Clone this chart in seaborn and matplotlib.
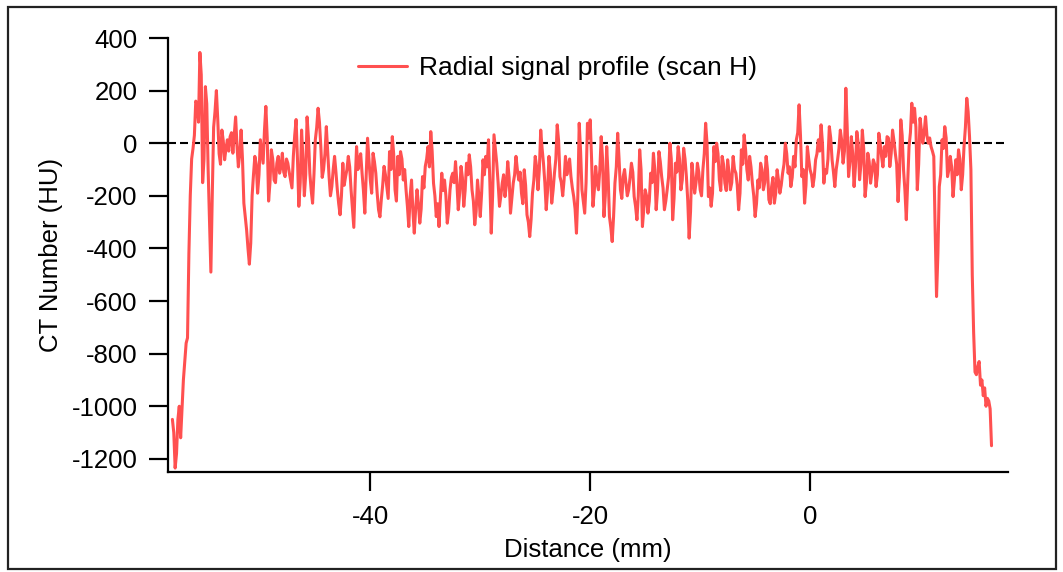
import numpy as np
import pandas as pd
import matplotlib
matplotlib.use("Agg")
import matplotlib.pyplot as plt
from matplotlib.patches import Rectangle
import seaborn as sns

# sampling of the radial profile (mm)
start_mm = -58.0
step_mm = 0.25

# CT number (HU) at the main samples
ct_values = [
    -1050, -1235, -1050, -1120, -900, -760, -420, -60, 30, 150,
    345, -150, 215, -100, -490, 60, 200, -40, 50, -63,
    13, 25, -38, 100, -90, 50, -228, -330, -460, -200,
    -50, -190, 13, -76, 140, -220, -25, -140, -76, -114,
    -38, -127, -76, -140, -50, 90, -240, 50, -200, 100,
    -114, -228, 13, 133, -13, -100, 63, -127, -165, -50,
    -177, -272, -76, -127, -50, -177, -320, -13, -63, -114,
    -266, 19, -140, -38, -114, -253, -215, -88, -165, -32,
    25, -177, -50, -32, -140, -177, -317, -140, -342, -177,
    -304, -127, -88, -13, 44, -152, -279, -317, -114, -140,
    -304, -177, -114, -70, -253, -88, -240, -76, -44, -177,
    -310, -140, -279, -63, -50, 13, -342, 32, -76, -240,
    -152, -203, -70, -266, -152, -50, -140, -190, -101, -272,
    -355, -190, -50, -177, 50, -76, -253, -50, -228, -114,
    70, -127, -200, -50, -88, -127, -203, -342, 76, -177,
    -266, 76, 89, -240, -88, -177, 25, -279, -13, -279,
    -374, -152, 38, -177, -127, -152, -177, -76, -203, -291,
    -25, -317, -177, -266, -114, -38, -253, -32, -127, -253,
    -177, 0, -291, -76, -13, -177, -19, -127, -361, -76,
    -190, -76, -177, -101, 76, -203, -240, -13, 0, -140,
    -50, -152, -63, -177, -50, -114, -253, -25, 32, -101,
    -50, -152, -279, -140, -76, -177, -50, -215, -165, -228,
    -101, -190, -114, 0, -114, -165, -50, 13, 146, -127,
    -228, -13, -101, -165, -63, 13, 70, -152, -114, 63,
    -63, -165, -63, 50, -76, 209, -127, 25, -165, 44,
    -139, 50, -203, -38, -152, -63, -165, 38, -50, -13,
    25, -89, 50, -38, -222, 89, -101, -291, -13, 152,
    133, -177, 95, 0, 101, 0, -13, -50, -583, -165,
    13, 63, -127, -50, -203, -63, -25, -177, -13, 171,
    25, -500, -870, -850, -920, -960, -1000, -980, -1150,
]

# CT number (HU) halfway between the main samples
ct_mid = [
    -1100, -1180, -1000, -1010, -830, -740, -200, -20, 160, 80,
    260, -60, 150, -300, -200, 120, 90, -80, 10, -20,
    -30, 40, 30, -10, -40, -60, -280, -400, -380, -120,
    -80, -120, -30, 50, 20, -150, -60, -150, -50, -90,
    -110, -60, -110, -170, 30, -60, -150, -60, -120, 20,
    -180, -120, 60, 80, -130, -40, -30, -200, -100, -110,
    -230, -200, -160, -100, -90, -250, -150, -100, -40, -180,
    -120, -60, -190, -70, -190, -280, -160, -120, -210, -100,
    -40, -220, -120, -60, -100, -240, -200, -260, -250, -230,
    -250, -170, -60, -90, -30, -200, -230, -210, -180, -200,
    -260, -130, -150, -150, -190, -130, -180, -120, -90, -220,
    -260, -200, -190, -120, -90, -150, -200, -20, -150, -200,
    -120, -160, -130, -210, -120, -100, -110, -230, -160, -300,
    -290, -140, -90, -100, -20, -150, -180, -110, -180, -60,
    10, -150, -140, -120, -60, -170, -250, -200, -30, -220,
    -150, 20, -60, -180, -150, -100, -60, -200, -120, -320,
    -280, -90, -60, -210, -100, -200, -130, -110, -240, -200,
    -100, -250, -200, -220, -150, -100, -180, -70, -170, -220,
    -130, -60, -210, -110, -60, -140, -60, -220, -260, -130,
    -150, -110, -200, -40, 0, -170, -190, -70, -40, -180,
    -80, -180, -110, -150, -100, -160, -190, -80, -20, -140,
    -90, -200, -230, -170, -100, -150, -100, -230, -130, -190,
    -140, -160, -80, -40, -90, -130, -90, 40, 30, -100,
    -160, -60, -120, -130, -40, -30, 0, -100, -60, 20,
    -110, -100, -20, 10, -30, 60, -70, -40, -90, 0,
    -80, -20, -150, -70, -110, -80, -120, 0, -90, -50,
    20, -40, 10, -80, -130, 30, -180, -150, 40, 80,
    60, -80, 50, 40, 30, 20, -30, -330, -420, -120,
    -20, 20, -100, -90, -140, -120, -60, -120, 60, 120,
    -100, -720, -880, -830, -900, -930, -970, -1010,
]

x_ticks = [-40, -20, 0]
y_ticks = [400, 200, 0, -200, -400, -600, -800, -1000, -1200]

main = pd.DataFrame({"Distance": start_mm + step_mm * np.arange(len(ct_values)),
                     "CT": ct_values})
half = pd.DataFrame({"Distance": start_mm + step_mm * (np.arange(len(ct_mid)) + 0.5),
                     "CT": ct_mid})
df = pd.concat([main, half]).sort_values("Distance").reset_index(drop=True)

sns.set_style("ticks")
plt.rcParams['font.family'] = ['Liberation Sans', 'DejaVu Sans']
plt.rcParams['axes.unicode_minus'] = False
plt.rcParams['text.color'] = 'black'
plt.rcParams['axes.labelcolor'] = 'black'

fig = plt.figure(figsize=(10.63, 5.72), dpi=100)
ax = fig.add_axes([168 / 1063, 1 - 472 / 572, 840 / 1063, 434 / 572])

ax.axhline(0, color='black', linewidth=1.5, linestyle=(0, (3.84, 1.92)), zorder=1)
sns.lineplot(data=df, x="Distance", y="CT", ax=ax, color='#ff5050', linewidth=2.2,
             label='Radial signal profile (scan H)', zorder=2)

ax.set_xlim(-58.4, 18.0)
ax.set_ylim(-1250, 400)
ax.set_xticks(x_ticks)
ax.set_yticks(y_ticks)

for side in ['top', 'right']:
    ax.spines[side].set_visible(False)
for side in ['left', 'bottom']:
    ax.spines[side].set_linewidth(1.6)
    ax.spines[side].set_color('black')
ax.tick_params(axis='both', direction='out', length=14, width=1.6, color='black',
               labelsize=18.5, pad=8, labelcolor='black')
ax.tick_params(axis='x', pad=10)

ax.set_xlabel('Distance (mm)', fontsize=18.5, labelpad=6)
ax.set_ylabel('CT Number (HU)', fontsize=18.5, labelpad=6)

leg = ax.legend(loc='center left', bbox_to_anchor=((358 - 168) / 840, (472 - 68) / 434),
                frameon=False, fontsize=19, handlelength=1.85, handletextpad=0.45,
                borderpad=0, borderaxespad=0)

# outer frame around the whole figure
fig.patches.append(Rectangle((8 / 1063, 3 / 572), 1048 / 1063, 562 / 572,
                             transform=fig.transFigure, fill=False,
                             edgecolor='#222222', linewidth=1.6))

fig.savefig('out.png', dpi=100)
